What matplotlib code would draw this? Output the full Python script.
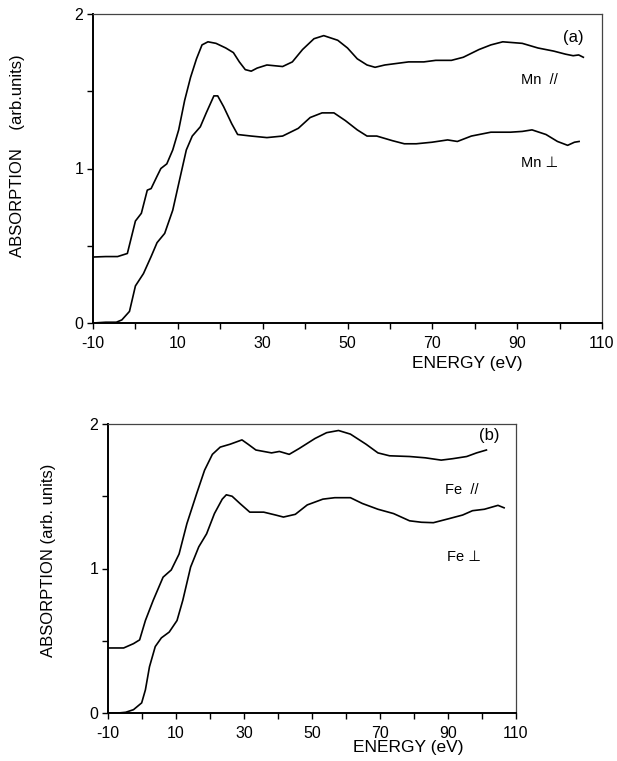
import matplotlib
matplotlib.use("Agg")
import matplotlib.pyplot as plt
import numpy as np

plt.rcParams['font.family'] = ['Liberation Sans', 'DejaVu Sans']

# ---------------- Data ----------------
# Panel (a): Mn
mn_par_e = [-10, -7, -4.2, -1.9, 0, 1.4, 2.8, 3.7, 5.1, 6, 7.4, 8.8, 10.2, 11.6, 13, 14.4,
            15.7, 17.1, 19, 21.3, 23.1, 24.5, 25.9, 27.3, 28.7, 31, 34.7, 37, 39.4, 42.1,
            44.4, 47.7, 50, 52.3, 54.6, 56.5, 58.8, 61.6, 64.4, 68, 70.8, 74.5, 77.3, 81,
            83.8, 86.6, 91.2, 94.9, 98.6, 101.4, 103.2, 104.5, 105.6]
mn_par_y = [0.427, 0.43, 0.43, 0.45, 0.66, 0.71, 0.86, 0.87, 0.95, 1.0, 1.03, 1.12, 1.25,
            1.44, 1.59, 1.71, 1.80, 1.82, 1.81, 1.78, 1.75, 1.69, 1.64, 1.63, 1.65, 1.67,
            1.66, 1.69, 1.77, 1.84, 1.86, 1.83, 1.78, 1.71, 1.67, 1.655, 1.67, 1.68, 1.69,
            1.69, 1.70, 1.70, 1.72, 1.77, 1.80, 1.82, 1.81, 1.78, 1.76, 1.74, 1.73, 1.735, 1.72]

mn_perp_e = [-10, -7, -4.5, -3.2, -1.4, 0, 1.9, 3.7, 5.1, 6.9, 8.8, 10.6, 12, 13.4, 15.3,
             16.7, 18.5, 19.4, 20.8, 22.7, 24.1, 27.3, 31, 34.7, 38.4, 41.2, 44, 46.8,
             49.5, 52.3, 54.6, 56.9, 60.6, 63.4, 66.2, 69.9, 73.6, 75.9, 79.2, 83.8, 88.4,
             91.2, 93.5, 96.8, 99.5, 101.9, 103.5, 104.6]
mn_perp_y = [0.0, 0.005, 0.005, 0.02, 0.075, 0.24, 0.32, 0.43, 0.52, 0.58, 0.73, 0.95,
             1.12, 1.21, 1.27, 1.36, 1.47, 1.47, 1.40, 1.29, 1.22, 1.21, 1.20, 1.21, 1.26,
             1.33, 1.36, 1.36, 1.31, 1.25, 1.21, 1.21, 1.18, 1.16, 1.16, 1.17, 1.185, 1.175,
             1.21, 1.235, 1.235, 1.24, 1.25, 1.22, 1.175, 1.15, 1.17, 1.175]

# Panel (b): Fe
fe_par_e = [-10, -7.5, -5.4, -2.5, -0.7, 1, 3.3, 6.2, 8.6, 10.9, 13.2, 16.1, 18.4, 20.7,
            23, 25.9, 29.4, 31.2, 33.5, 38.1, 40.4, 43.3, 46.2, 50.9, 54.3, 57.8, 61.3,
            65.9, 69.4, 72.8, 78.7, 83.3, 88, 91.4, 95.5, 98.4, 101.3]
fe_par_y = [0.45, 0.45, 0.45, 0.48, 0.506, 0.64, 0.78, 0.94, 0.99, 1.10, 1.31, 1.52, 1.68,
            1.79, 1.84, 1.86, 1.89, 1.86, 1.82, 1.80, 1.81, 1.79, 1.83, 1.90, 1.94, 1.955,
            1.93, 1.86, 1.80, 1.78, 1.775, 1.766, 1.75, 1.76, 1.775, 1.80, 1.82]

fe_perp_e = [-10, -7, -4.8, -2.5, -0.1, 1, 2.2, 3.9, 5.7, 8, 10.3, 12, 14.3, 16.7, 19,
             21.3, 23.6, 24.8, 26.5, 28.8, 31.7, 35.8, 39.3, 41.6, 45.1, 48.6, 53.2, 56.7,
             61.3, 64.8, 69.4, 74, 78.7, 82.2, 85.7, 90.3, 94.3, 97.2, 100.7, 104.7, 106.5]
fe_perp_y = [0.0, 0.0, 0.005, 0.023, 0.07, 0.16, 0.32, 0.46, 0.52, 0.56, 0.64, 0.78, 1.01,
             1.15, 1.24, 1.38, 1.48, 1.51, 1.50, 1.45, 1.39, 1.39, 1.37, 1.356, 1.375, 1.44,
             1.48, 1.49, 1.49, 1.45, 1.41, 1.38, 1.33, 1.32, 1.317, 1.345, 1.37, 1.40, 1.41,
             1.437, 1.42]

x_major = [-10, 10, 30, 50, 70, 90, 110]
x_minor = [0, 20, 40, 60, 80, 100]
y_major = [0, 1, 2]
y_minor = [0.5, 1.5]

# ---------------- Figure ----------------
W, H = 617, 761
fig = plt.figure(figsize=(W / 100, H / 100), dpi=100)


def add_axes_px(left, top, right, bottom):
    return fig.add_axes([left / W, 1 - bottom / H, (right - left) / W, (bottom - top) / H])


def style_axes(ax):
    ax.set_xlim(-10, 110)
    ax.set_ylim(0, 2)
    ax.set_xticks(x_major)
    ax.set_xticks(x_minor, minor=True)
    ax.set_yticks(y_major)
    ax.set_yticks(y_minor, minor=True)
    ax.set_xticklabels([str(v) for v in x_major])
    ax.set_yticklabels([str(v) for v in y_major])
    ax.tick_params(which='both', direction='out', length=4, width=1.0, labelsize=11.5,
                   colors='black')
    ax.tick_params(axis='x', which='both', pad=5.5)
    ax.tick_params(axis='y', which='both', pad=3)
    for s in ['left', 'bottom']:
        ax.spines[s].set_linewidth(1.4)
        ax.spines[s].set_color('black')
    for s in ['top', 'right']:
        ax.spines[s].set_linewidth(0.9)
        ax.spines[s].set_color('#444444')


# Panel (a)
ax1 = add_axes_px(93, 14, 602, 323)
style_axes(ax1)
ax1.plot(mn_par_e, mn_par_y, color='black', lw=1.2)
ax1.plot(mn_perp_e, mn_perp_y, color='black', lw=1.2)
ax1.text(103.2, 1.85, '(a)', fontsize=12, ha='center', va='center')
ax1.text(95.2, 1.57, 'Mn  //', fontsize=10.5, ha='center', va='center')
ax1.text(95.2, 1.035, 'Mn \u22a5', fontsize=10.5, ha='center', va='center')
ax1.set_xlabel('ENERGY (eV)', fontsize=12.5, va='top')
ax1.xaxis.set_label_coords(0.735, -0.108)
ax1.set_ylabel('ABSORPTION    (arb.units)', fontsize=12, va='center', ha='center')
ax1.yaxis.set_label_coords(-0.149, 0.54)

# Panel (b)
ax2 = add_axes_px(108, 424, 516, 713)
style_axes(ax2)
ax2.plot(fe_par_e, fe_par_y, color='black', lw=1.2)
ax2.plot(fe_perp_e, fe_perp_y, color='black', lw=1.2)
ax2.text(102, 1.92, '(b)', fontsize=12, ha='center', va='center')
ax2.text(94.1, 1.54, 'Fe  //', fontsize=10.5, ha='center', va='center')
ax2.text(94.7, 1.08, 'Fe \u22a5', fontsize=10.5, ha='center', va='center')
ax2.set_xlabel('ENERGY (eV)', fontsize=12.5, va='top')
ax2.xaxis.set_label_coords(0.735, -0.093)
ax2.set_ylabel('ABSORPTION (arb. units)', fontsize=12, va='center', ha='center')
ax2.yaxis.set_label_coords(-0.145, 0.53)

fig.savefig('out.png', dpi=100)
